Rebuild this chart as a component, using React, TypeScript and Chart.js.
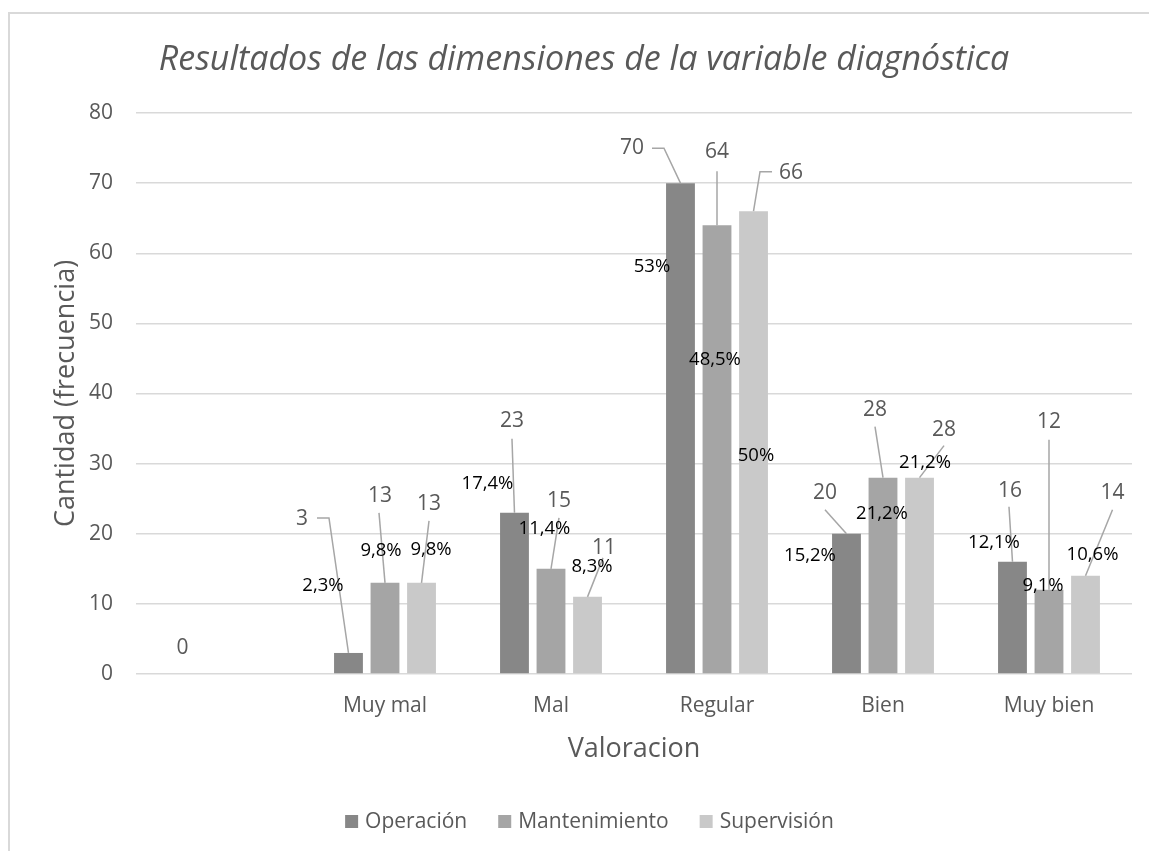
import React, { useEffect, useRef } from "react";
import { Chart, registerables } from "chart.js";

Chart.register(...registerables);

// ---------- data ----------
const categories = ["", "Muy mal", "Mal", "Regular", "Bien", "Muy bien"];
const seriesNames = ["Operación", "Mantenimiento", "Supervisión"];
const operacion: (number | null)[] = [0, 3, 23, 70, 20, 16];
const mantenimiento: (number | null)[] = [null, 13, 15, 64, 28, 12];
const supervision: (number | null)[] = [null, 13, 11, 66, 28, 14];
const operacionPct = ["", "2,3%", "17,4%", "53%", "15,2%", "12,1%"];
const mantenimientoPct = ["", "9,8%", "11,4%", "48,5%", "21,2%", "9,1%"];
const supervisionPct = ["", "9,8%", "8,3%", "50%", "21,2%", "10,6%"];
const yMin = 0;
const yMax = 80;
const yStep = 10;

const chartTitle = "Resultados de las dimensiones de la variable diagnóstica";
const xTitle = "Valoracion";
const yTitle = "Cantidad (frecuencia)";

// ---------- styles ----------
const colors = ["#878787", "#a5a5a5", "#c9c9c9"];
const FONT = "'Open Sans', 'Noto Sans', sans-serif";
const TEXT = "#595959";

// label placement offsets relative to each bar's top-centre (manually dragged labels)
type LL = { v: [number, number]; p?: [number, number]; line?: [number, number][] } | null;
const labelLayout: LL[][] = [
  [
    { v: [0, -26] },
    { v: [-46.5, -134], p: [-25.5, -67], line: [[-31.5, -135], [-19.5, -135]] },
    { v: [-2.5, -92], p: [-27, -28.5], line: [[-2.5, -74]] },
    { v: [-48.5, -35], p: [-28.5, 84], line: [[-28.5, -35], [-16.5, -35]] },
    { v: [-21.5, -41], p: [-36.5, 22], line: [[-21.5, -24]] },
    { v: [-2.5, -71], p: [-18.5, -19], line: [[-3.5, -55]] },
  ],
  [
    null,
    { v: [-5, -87], p: [-4, -32], line: [[-6, -70]] },
    { v: [8, -68], p: [-6.5, -40], line: [[8, -51]] },
    { v: [0, -73], p: [-2, 135], line: [[0, -54]] },
    { v: [-8, -68], p: [-1, 36], line: [[-8, -51]] },
    { v: [0, -168], p: [-6, -4], line: [[0, -150]] },
  ],
  [
    null,
    { v: [7.5, -79], p: [9.5, -33], line: [[7.5, -62]] },
    { v: [16.5, -49], p: [4.5, -30], line: [[15.5, -39]] },
    { v: [37.5, -38], p: [2.5, 245], line: [[18.5, -39.5], [6.5, -39.5]] },
    { v: [24.5, -48], p: [5.5, -15], line: [[24.5, -32]] },
    { v: [27, -83], p: [7, -21], line: [[27, -66]] },
  ],
];

const pctLists = [operacionPct, mantenimientoPct, supervisionPct];

const annotate = {
  id: "annotate",
  afterDatasetsDraw(chart: any) {
    const ctx = chart.ctx as CanvasRenderingContext2D;
    ctx.save();
    chart.data.datasets.forEach((ds: any, i: number) => {
      const meta = chart.getDatasetMeta(i);
      meta.data.forEach((el: any, j: number) => {
        const val = ds.data[j];
        const lay = labelLayout[i][j];
        if (val === null || val === undefined || !lay) return;
        const x = el.x;
        const y = el.y;
        if (lay.line) {
          ctx.beginPath();
          ctx.strokeStyle = "#a6a6a6";
          ctx.lineWidth = 1.5;
          ctx.moveTo(x + lay.line[0][0], y + lay.line[0][1]);
          for (let k = 1; k < lay.line.length; k++) ctx.lineTo(x + lay.line[k][0], y + lay.line[k][1]);
          ctx.lineTo(x, y);
          ctx.stroke();
        }
        ctx.textAlign = "center";
        ctx.textBaseline = "middle";
        ctx.fillStyle = TEXT;
        ctx.font = `21px ${FONT}`;
        ctx.fillText(String(val), x + lay.v[0], y + lay.v[1]);
        if (lay.p && pctLists[i][j]) {
          ctx.fillStyle = "#000000";
          ctx.font = `18.5px ${FONT}`;
          ctx.fillText(pctLists[i][j], x + lay.p[0], y + lay.p[1]);
        }
      });
    });
    ctx.restore();
  },
  afterDraw(chart: any) {
    const ctx = chart.ctx as CanvasRenderingContext2D;
    const area = chart.chartArea;
    ctx.save();
    // outer border
    ctx.strokeStyle = "#d9d9d9";
    ctx.lineWidth = 2;
    ctx.beginPath();
    ctx.moveTo(9, chart.height);
    ctx.lineTo(9, 13);
    ctx.lineTo(chart.width, 13);
    ctx.stroke();
    // title
    ctx.fillStyle = TEXT;
    ctx.textAlign = "center";
    ctx.textBaseline = "alphabetic";
    ctx.font = `italic 34px ${FONT}`;
    ctx.fillText(chartTitle, 584, 70);
    // x title
    ctx.font = `27px ${FONT}`;
    ctx.fillText(xTitle, (area.left + area.right) / 2, 757);
    // y title
    ctx.save();
    ctx.translate(74, (area.top + area.bottom) / 2);
    ctx.rotate(-Math.PI / 2);
    ctx.fillText(yTitle, 0, 0);
    ctx.restore();
    // legend
    ctx.font = `21px ${FONT}`;
    ctx.textAlign = "left";
    const sq = 13, gap = 7, itemGap = 31;
    const widths = seriesNames.map((n) => ctx.measureText(n).width);
    const total = widths.reduce((a, b) => a + b, 0) + seriesNames.length * (sq + gap) + (seriesNames.length - 1) * itemGap;
    let lx = 589.5 - total / 2;
    seriesNames.forEach((n, i) => {
      ctx.fillStyle = colors[i];
      ctx.fillRect(lx, 815, sq, sq);
      ctx.fillStyle = TEXT;
      ctx.fillText(n, lx + sq + gap, 828);
      lx += sq + gap + widths[i] + itemGap;
    });
    ctx.restore();
  },
};

export default function App() {
  const ref = useRef<HTMLCanvasElement | null>(null);
  useEffect(() => {
    document.body.style.margin = "0";
    document.body.style.background = "#ffffff";
    const canvas = ref.current!;
    const chart = new Chart(canvas, {
      type: "bar",
      data: {
        labels: categories,
        datasets: [
          { label: seriesNames[0], data: operacion, backgroundColor: colors[0] },
          { label: seriesNames[1], data: mantenimiento, backgroundColor: colors[1] },
          { label: seriesNames[2], data: supervision, backgroundColor: colors[2] },
        ],
      },
      options: {
        responsive: false,
        animation: false,
        devicePixelRatio: 1,
        layout: { padding: { left: 10, top: 113, right: 17, bottom: 97 } },
        datasets: { bar: { categoryPercentage: 0.66, barPercentage: 0.79 } } as any,
        plugins: { legend: { display: false }, title: { display: false }, tooltip: { enabled: false } },
        scales: {
          x: {
            grid: { display: false },
            border: { display: false },
            ticks: { color: TEXT, font: { family: FONT, size: 21 }, padding: 11, maxRotation: 0 },
            afterFit: (s: any) => { s.height = 80; },
          },
          y: {
            min: yMin,
            max: yMax,
            ticks: { stepSize: yStep, color: TEXT, font: { family: FONT, size: 21 }, padding: 23 },
            grid: { color: "#d9d9d9", lineWidth: 1.5, drawTicks: false },
            border: { display: false },
            afterFit: (s: any) => { s.width = 126; },
          },
        },
      },
      plugins: [annotate],
    });
    return () => chart.destroy();
  }, []);
  return (
    <div style={{ position: "absolute", left: 0, top: 0, width: 1149, height: 851, background: "#fff" }}>
      <canvas ref={ref} width={1149} height={851} style={{ display: "block" }} />
    </div>
  );
}
